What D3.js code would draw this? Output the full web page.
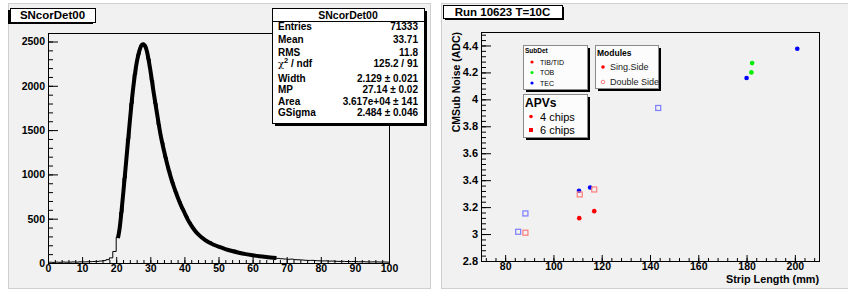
<!DOCTYPE html>
<html>
<head>
<meta charset="utf-8">
<script src="https://cdn.jsdelivr.net/npm/d3@7"></script>
<style>
body { margin: 0; background: #fff; }
svg { display: block; font-family: "Liberation Sans", Arial, sans-serif; }
</style>
</head>
<body>
<div id="chart"></div>
<script>
// ---- left pad: SNcorDet00 histogram, bins of width 1 from 0 to 100
const binCounts = [
  9, 7, 10, 8, 11, 9, 10, 12, 10, 13,
  12, 14, 15, 17, 18, 22, 27, 38, 58, 130,
  290, 570, 960, 1400, 1800, 2130, 2350, 2460, 2440, 2300,
  2060, 1800, 1560, 1360, 1190, 1040, 910, 800, 700, 610,
  530, 460, 400, 345, 310, 275, 250, 240, 212, 193,
  178, 165, 150, 140, 145, 120, 112, 103, 96, 92,
  84, 79, 73, 70, 65, 61, 57, 52, 48, 45,
  42, 44, 38, 36, 34, 31, 29, 30, 27, 25,
  23, 24, 21, 22, 19, 18, 19, 17, 16, 17,
  15, 14, 15, 13, 12, 13, 12, 11, 12, 10
];
// langau fit
const fitX = [20.5, 21, 22, 23, 24, 25, 26, 27, 27.5, 28, 28.5, 29,
  30, 31, 32, 33, 34, 35, 36, 37, 38, 39, 40, 41, 42, 43, 44, 45, 46, 47, 48, 49, 50,
  52, 54, 56, 58, 60, 62, 64, 66, 67];
const fitY = [280, 390, 760, 1180, 1600, 1980, 2260, 2420, 2462, 2470, 2448, 2390,
  2180, 1920, 1680, 1450, 1270, 1110, 970, 850, 745, 650, 570, 490, 425, 370, 325, 290, 262, 238, 218, 200, 185,
  157, 135, 116, 100, 87, 76, 67, 59, 56];
const histXTicks = [0, 10, 20, 30, 40, 50, 60, 70, 80, 90, 100];
const histYTicks = [0, 500, 1000, 1500, 2000, 2500];

const statTitle = "SNcorDet00";
const statLabels = ["Entries", "Mean", "RMS", "chi2", "Width", "MP", "Area", "GSigma"];
const statValues = ["71333", "33.71", "11.8", "125.2 / 91", "2.129 \u00b1 0.021",
  "27.14 \u00b1 0.02", "3.617e+04 \u00b1 141", "2.484 \u00b1 0.046"];

// ---- right pad: noise vs strip length
const stripLength = [201, 182.3, 182, 180, 143.4, 110.6, 115.2, 116.9, 110.9, 116.9, 110.7, 88.4, 85.4, 88.4];
const cmsNoise = [4.376, 4.269, 4.20, 4.158, 3.936, 3.321, 3.346, 3.331, 3.294, 3.17, 3.118, 3.153, 3.017, 3.01];
const subDet = ["TEC", "TOB", "TOB", "TEC", "TEC", "TEC", "TEC", "TIB/TID", "TIB/TID", "TIB/TID", "TIB/TID", "TEC", "TEC", "TIB/TID"];
const moduleSide = ["single", "single", "single", "single", "double", "single", "single", "double", "double", "single", "single", "double", "double", "double"];
const noiseXTicks = [80, 100, 120, 140, 160, 180, 200];
const noiseYTicks = [2.8, 3, 3.2, 3.4, 3.6, 3.8, 4, 4.2, 4.4];

const subDetNames = ["TIB/TID", "TOB", "TEC"];
const moduleNames = ["Sing.Side", "Double Side"];
const apvNames = ["4 chips", "6 chips"];

const W = 848, H = 291;
const padFill = "#f1f1f1";
const filled = d3.scaleOrdinal().domain(subDetNames).range(["#ff0000", "#00ee00", "#0000ff"]);
const light = d3.scaleOrdinal().domain(subDetNames).range(["#ff7c7c", "#7cff7c", "#7c7cff"]);

const svg = d3.select("#chart").append("svg")
  .attr("width", W).attr("height", H);

// pads
svg.append("rect").attr("x", 8.5).attr("y", 3.5).attr("width", 422).attr("height", 285)
  .attr("fill", padFill).attr("stroke", "#cfcfcf");
svg.append("rect").attr("x", 441.5).attr("y", 3.5).attr("width", 410).attr("height", 285)
  .attr("fill", padFill).attr("stroke", "#cfcfcf");

// inward ticks, major + minor
function drawAxis(g, scale, orient, majors, minorStep, majLen, minLen, fmt, fsize) {
  const [a, b] = scale.domain();
  const minors = d3.range(Math.ceil(a / minorStep - 1e-9) * minorStep, b + 1e-9, minorStep);
  const mk = orient === "left" ? d3.axisLeft : d3.axisBottom;
  g.append("g").call(mk(scale).tickValues(minors).tickSizeInner(-minLen).tickSizeOuter(0).tickFormat(""))
    .call(s => s.select(".domain").remove());
  const maj = g.append("g").call(mk(scale).tickValues(majors).tickSizeInner(-majLen).tickSizeOuter(0)
      .tickPadding(orient === "left" ? 3 : 2).tickFormat(fmt))
    .call(s => s.select(".domain").remove());
  g.selectAll("line").attr("stroke", "#000");
  maj.selectAll("text").attr("fill", "#000").attr("font-size", fsize).attr("font-weight", "bold")
    .attr("font-family", "Liberation Sans, Arial, sans-serif");
}

function titleBox(x, y, w, h, text, shadowLeft) {
  const g = svg.append("g");
  g.append("rect").attr("x", shadowLeft ? x - 2 : x + 2).attr("y", y + 2).attr("width", w).attr("height", h).attr("fill", "#000");
  g.append("rect").attr("x", x + 0.5).attr("y", y + 0.5).attr("width", w).attr("height", h)
    .attr("fill", "#fff").attr("stroke", "#000");
  g.append("text").attr("x", x + w / 2).attr("y", y + h / 2 + 4).attr("text-anchor", "middle")
    .attr("font-size", 11.5).attr("font-weight", "bold").text(text);
}

// ================= left pad =================
const L = {left: 48, right: 389, top: 33, bottom: 263};
const hx = d3.scaleLinear().domain([0, 100]).range([L.left, L.right]);
const hy = d3.scaleLinear().domain([0, 2596]).range([L.bottom, L.top]);

svg.append("rect").attr("x", L.left + 0.5).attr("y", L.top + 0.5)
  .attr("width", L.right - L.left).attr("height", L.bottom - L.top)
  .attr("fill", padFill).attr("stroke", "#000");

const histPts = binCounts.map((c, i) => [i, c]).concat([[100, binCounts[binCounts.length - 1]]]);
svg.append("path").datum(histPts)
  .attr("fill", "none").attr("stroke", "#000").attr("stroke-width", 1)
  .attr("d", d3.line().x(d => hx(d[0])).y(d => hy(d[1])).curve(d3.curveStepAfter));

svg.append("path").datum(fitX.map((x, i) => [x, fitY[i]]))
  .attr("fill", "none").attr("stroke", "#000").attr("stroke-width", 4)
  .attr("d", d3.line().x(d => hx(d[0])).y(d => hy(d[1])).curve(d3.curveCatmullRom));

drawAxis(svg.append("g").attr("transform", `translate(0,${L.bottom})`), hx, "bottom",
  histXTicks, 2, 6, 3, d3.format("d"), 10.5);
drawAxis(svg.append("g").attr("transform", `translate(${L.left},0)`), hy, "left",
  histYTicks, 100, 10, 5, d3.format("d"), 10.5);

titleBox(10, 8, 85, 14, "SNcorDet00", true);

// stats box
const sb = {x: 272, y: 8, w: 152, h: 115};
const rowY = [30, 42.5, 55.5, 67, 81.5, 93, 104.5, 116];
svg.append("rect").attr("x", sb.x + 3).attr("y", sb.y + 3).attr("width", sb.w).attr("height", sb.h).attr("fill", "#000");
svg.append("rect").attr("x", sb.x + 0.5).attr("y", sb.y + 0.5).attr("width", sb.w).attr("height", sb.h)
  .attr("fill", "#fff").attr("stroke", "#000");
svg.append("line").attr("x1", sb.x).attr("x2", sb.x + sb.w).attr("y1", 21.5).attr("y2", 21.5).attr("stroke", "#000");
svg.append("text").attr("x", sb.x + sb.w / 2).attr("y", 18.5).attr("text-anchor", "middle")
  .attr("font-size", 10.5).attr("font-weight", "bold").text(statTitle);
const statG = svg.append("g").attr("font-size", 10).attr("font-weight", "bold");
statLabels.forEach((lab, i) => {
  const t = statG.append("text").attr("x", sb.x + 6).attr("y", rowY[i]);
  if (lab === "chi2") {
    t.append("tspan").attr("font-weight", "normal").attr("font-family", "DejaVu Serif, serif").text("\u03c7");
    t.append("tspan").attr("dy", -4).attr("font-size", 7.5).text("2");
    t.append("tspan").attr("dy", 4).text(" / ndf");
  } else {
    t.text(lab);
  }
  statG.append("text").attr("x", sb.x + sb.w - 6).attr("y", rowY[i]).attr("text-anchor", "end").text(statValues[i]);
});

// ================= right pad =================
const R = {left: 481, right: 819, top: 32, bottom: 261};
const nx = d3.scaleLinear().domain([70, 210]).range([R.left, R.right]);
const ny = d3.scaleLinear().domain([2.8, 4.5]).range([R.bottom, R.top]);

svg.append("rect").attr("x", R.left + 0.5).attr("y", R.top + 0.5)
  .attr("width", R.right - R.left).attr("height", R.bottom - R.top)
  .attr("fill", padFill).attr("stroke", "#000");

drawAxis(svg.append("g").attr("transform", `translate(0,${R.bottom})`), nx, "bottom",
  noiseXTicks, 4, 6, 3, d3.format("d"), 10.5);
drawAxis(svg.append("g").attr("transform", `translate(${R.left},0)`), ny, "left",
  noiseYTicks, 0.04, 10, 5, d => d3.format("~g")(d), 11);

svg.append("text").attr("x", R.right).attr("y", 283).attr("text-anchor", "end")
  .attr("font-size", 10.8).attr("font-weight", "bold").text("Strip Length (mm)");
svg.append("text").attr("transform", `translate(460,${R.top}) rotate(-90)`).attr("text-anchor", "end")
  .attr("font-size", 10.5).attr("font-weight", "bold").text("CMSub Noise (ADC)");

titleBox(443, 5, 119, 13, "Run 10623 T=10C", false);

const pts = svg.append("g");
stripLength.forEach((x, i) => {
  if (moduleSide[i] === "single") {
    pts.append("circle").attr("cx", nx(x)).attr("cy", ny(cmsNoise[i])).attr("r", 2.3)
      .attr("fill", filled(subDet[i]));
  } else {
    pts.append("rect").attr("x", nx(x) - 2.5).attr("y", ny(cmsNoise[i]) - 2.5)
      .attr("width", 5).attr("height", 5).attr("fill", "none")
      .attr("stroke", light(subDet[i])).attr("stroke-width", 1.2);
  }
});

// legends
function legendBox(x, y, w, h) {
  svg.append("rect").attr("x", x + 3).attr("y", y + 3).attr("width", w).attr("height", h).attr("fill", "#000");
  svg.append("rect").attr("x", x + 0.5).attr("y", y + 0.5).attr("width", w).attr("height", h)
    .attr("fill", "#fcfcfc").attr("stroke", "#8a8a8a");
}

legendBox(523, 45, 64, 44);
svg.append("text").attr("x", 525).attr("y", 53).attr("font-size", 6.5).attr("font-weight", "bold").text("SubDet");
subDetNames.forEach((n, i) => {
  const cy = 62 + i * 10.5;
  svg.append("circle").attr("cx", 532).attr("cy", cy).attr("r", 1.6).attr("fill", filled(n));
  svg.append("text").attr("x", 540).attr("y", cy + 2.5).attr("font-size", 7).text(n);
});

legendBox(595, 45, 63, 43);
svg.append("text").attr("x", 597).attr("y", 56).attr("font-size", 8.5).attr("font-weight", "bold").text("Modules");
moduleNames.forEach((n, i) => {
  const cy = 67 + i * 15;
  if (i === 0) {
    svg.append("circle").attr("cx", 603).attr("cy", cy).attr("r", 1.8).attr("fill", filled("TIB/TID"));
  } else {
    svg.append("circle").attr("cx", 603).attr("cy", cy).attr("r", 1.8).attr("fill", "none")
      .attr("stroke", light("TIB/TID")).attr("stroke-width", 1);
  }
  svg.append("text").attr("x", 610).attr("y", cy + 3.2).attr("font-size", 9).attr("fill", "#222").text(n);
});

legendBox(523, 94, 64, 43);
svg.append("text").attr("x", 525).attr("y", 107).attr("font-size", 12).attr("font-weight", "bold").text("APVs");
apvNames.forEach((n, i) => {
  const cy = 116.5 + i * 13.5;
  if (i === 0) {
    svg.append("circle").attr("cx", 531).attr("cy", cy).attr("r", 1.8).attr("fill", filled("TIB/TID"));
  } else {
    svg.append("rect").attr("x", 529).attr("y", cy - 2).attr("width", 4).attr("height", 4).attr("fill", filled("TIB/TID"));
  }
  svg.append("text").attr("x", 540).attr("y", cy + 4).attr("font-size", 11).text(n);
});
</script>
</body>
</html>
